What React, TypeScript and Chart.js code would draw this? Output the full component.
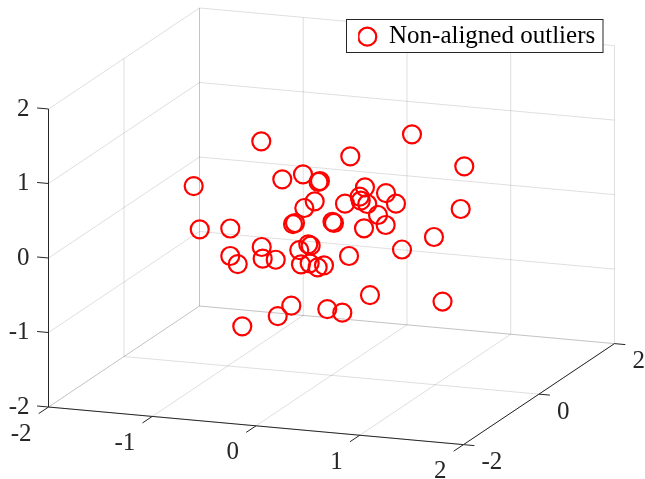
import React, { useEffect, useRef } from "react";
import { Chart, registerables } from "chart.js";

Chart.register(...registerables);

// Axis ticks of the 3D box
const xTicks = [-2, -1, 0, 1, 2];
const yTicks = [-2, 0, 2];
const zTicks = [-2, -1, 0, 1, 2];
const seriesName = "Non-aligned outliers";

// Outliers, read as view-plane coordinates (one unit = one unit of the z axis)
const planeX = [
  0.856, -0.051, 1.138, 1.416, 1.624, 1.644, 1.573, 1.434, 1.282, 1.309,
  0.03, 0.44, 1.812, 1.832, 2.879, 2.051, 3.581, 3.533, 2.248, 2.53,
  2.664, 1.98, 2.177, 2.191, 2.279, 2.423, 2.235, 2.526, 3.174, 0.862,
  0.44, 0.54, 0.875, 1.05, 1.366, 1.487, 1.519, 1.389, 1.506, 1.613,
  1.698, 2.034, 2.745, 1.259, 1.077, 1.742, 1.944, 0.601, 2.315, 3.289,
];
const planeY = [
  1.566, 0.966, 1.056, 1.123, 1.02, 1.034, 0.761, 0.671, 0.456, 0.47,
  0.385, 0.396, 0.487, 0.47, 1.66, 1.365, 1.231, 0.658, 0.949, 0.872,
  0.729, 0.729, 0.823, 0.769, 0.725, 0.577, 0.399, 0.443, 0.282, 0.148,
  0.027, -0.081, -0.009, -0.023, 0.107, 0.184, 0.165, -0.085, -0.071, -0.125,
  -0.098, 0.027, 0.114, -0.64, -0.779, -0.685, -0.734, -0.917, -0.497, -0.584,
];

// View projection of the box onto the plane
const XU = 103.75 / 74.5;
const XV = -9.4 / 74.5;
const YU = 37.75 / 74.5;
const YV = 25.25 / 74.5;
const project = (x: number, y: number, z: number) => ({
  x: -2 + (x + 2) * XU + (y + 2) * YU,
  y: z + (x + 2) * XV + (y + 2) * YV,
});

const FONT = "'Liberation Serif', 'Times New Roman', serif";
const INK = "#262626";
const GRID = "rgba(38,38,38,0.15)";

const line = (pts: number[][], color: string) => ({
  data: pts.map((p) => project(p[0], p[1], p[2])),
  showLine: true,
  borderColor: color,
  borderWidth: 1,
  pointRadius: 0,
  clip: false as const,
  order: 5,
  label: "",
});

const boxLines = [
  ...zTicks.map((z) => line([[-2, -2, z], [-2, 2, z], [2, 2, z]], GRID)),
  ...xTicks.map((x) => line([[x, -2, -2], [x, 2, -2], [x, 2, 2]], GRID)),
  ...yTicks.map((y) => line([[2, y, -2], [-2, y, -2], [-2, y, 2]], GRID)),
  line([[-2, -2, 2], [-2, -2, -2], [2, -2, -2], [2, 2, -2]], INK),
  ...xTicks.map((x) => line([[x, -2, -2], [x, -2.26, -2]], INK)),
  ...yTicks.map((y) => line([[2, y, -2], [2.105, y, -2]], INK)),
  ...zTicks.map((z) => line([[-2, -2, z], [-2.11, -2, z]], INK)),
];

const box3dLabels = {
  id: "box3dLabels",
  afterLayout(chart: any) {
    const l = chart.legend;
    l.left = 358.1;
    l.right = 600;
    l.top = 24.2;
    l.bottom = 50;
    l.width = l.right - l.left;
    l.height = l.bottom - l.top;
  },
  afterDatasetsDraw(chart: any) {
    const { ctx, scales } = chart;
    const at = (p: { x: number; y: number }) => ({
      x: scales.x.getPixelForValue(p.x),
      y: scales.y.getPixelForValue(p.y),
    });
    ctx.save();
    ctx.font = `25px ${FONT}`;
    ctx.fillStyle = INK;
    ctx.textBaseline = "middle";
    ctx.textAlign = "right";
    xTicks.forEach((t) => {
      const p = at(project(t, -2, -2));
      ctx.fillText(String(t), p.x - 17, p.y + 27);
    });
    ctx.textAlign = "left";
    yTicks.forEach((t) => {
      const p = at(project(2, t, -2));
      ctx.fillText(String(t), p.x + 18, p.y + 18);
    });
    // legend frame on top of the grid
    ctx.fillStyle = "#fff";
    ctx.strokeStyle = INK;
    ctx.lineWidth = 1;
    ctx.fillRect(346.5, 19.5, 256.5, 33);
    ctx.strokeRect(346.5, 19.5, 256.5, 33);
    ctx.restore();
    chart.legend.draw();
  },
};

export default function App() {
  const ref = useRef<HTMLCanvasElement>(null);
  useEffect(() => {
    const chart = new Chart(ref.current as HTMLCanvasElement, {
      type: "scatter",
      data: {
        datasets: [
          ...boxLines,
          {
            label: seriesName,
            data: planeX.map((x, i) => ({ x, y: planeY[i] })),
            showLine: false,
            pointStyle: "circle",
            pointRadius: 9,
            pointHoverRadius: 9,
            pointBorderWidth: 2.2,
            pointBorderColor: "#ff0000",
            pointBackgroundColor: "rgba(0,0,0,0)",
            borderColor: "#ff0000",
            clip: false,
            order: 1,
          },
        ] as any,
      },
      options: {
        animation: false,
        responsive: false,
        layout: { padding: 0, autoPadding: false },
        events: [],
        scales: {
          x: { type: "linear", display: false, min: -2, max: 6.007 },
          y: {
            type: "linear",
            min: -2.966,
            max: 3.463,
            grid: { display: false, drawTicks: false },
            border: { display: false },
            afterBuildTicks: (s: any) => {
              s.ticks = zTicks.map((value) => ({ value }));
            },
            afterFit: (s: any) => {
              s.width = 48.5;
              s.paddingTop = 0;
              s.paddingBottom = 0;
            },
            ticks: {
              autoSkip: false,
              padding: 19,
              color: INK,
              font: { family: FONT, size: 25 },
              callback: (v: any) => String(v),
            },
          },
        },
        plugins: {
          tooltip: { enabled: false },
          legend: {
            position: "chartArea",
            align: "start",
            labels: {
              usePointStyle: true,
              boxWidth: 18.4,
              boxHeight: 12.7,
              padding: 0,
              color: "#000",
              font: { family: FONT, size: 25, lineHeight: 1 },
              filter: (item: any) => item.text === seriesName,
            },
          },
        },
      } as any,
      plugins: [box3dLabels],
    });
    return () => chart.destroy();
  }, []);
  return (
    <div style={{ position: "absolute", left: 0, top: 0, width: 645, height: 479 }}>
      <canvas ref={ref} width={645} height={479} style={{ display: "block" }} />
    </div>
  );
}
